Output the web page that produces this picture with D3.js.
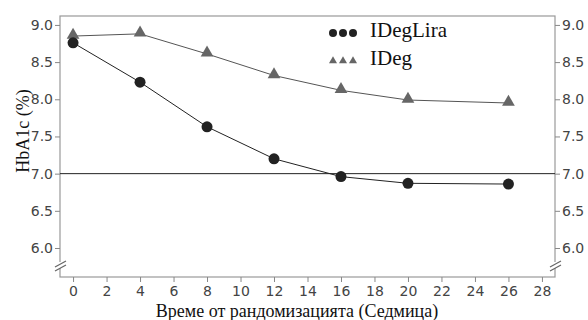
<!DOCTYPE html>
<html>
<head>
<meta charset="utf-8">
<script src="https://cdn.jsdelivr.net/npm/d3@7"></script>
<style>
  body { margin: 0; background: #fff; }
  .axis text { font-family: "DejaVu Sans", sans-serif; font-size: 14px; fill: #444; }
  .axis path, .axis line { stroke: #888; }
</style>
</head>
<body>
<script>
var weeks = [0, 4, 8, 12, 16, 20, 26];
var idegLira = [8.76, 8.23, 7.63, 7.20, 6.96, 6.87, 6.86];
var ideg = [8.85, 8.88, 8.61, 8.32, 8.12, 7.99, 7.95];
var xTicks = [0, 2, 4, 6, 8, 10, 12, 14, 16, 18, 20, 22, 24, 26, 28];
var yTicks = [6.0, 6.5, 7.0, 7.5, 8.0, 8.5, 9.0];
var seriesNames = ['IDegLira', 'IDeg'];

var W = 588, H = 320;
var pLeft = 60, pRight = 555, pTop = 16, pBottom = 277;

var svg = d3.select('body').append('svg').attr('width', W).attr('height', H);

var x = d3.scaleLinear().domain([-0.78, 28.78]).range([pLeft, pRight]);
var y = d3.scaleLinear().domain([5.61, 9.12]).range([pBottom, pTop]);

// frame
svg.append('rect').attr('x', pLeft).attr('y', pTop)
  .attr('width', pRight - pLeft).attr('height', pBottom - pTop)
  .attr('fill', 'none').attr('stroke', '#999').attr('stroke-width', 1.2);

var yAxisL = d3.axisLeft(y).tickValues(yTicks).tickFormat(d3.format('.1f')).tickSize(5).tickPadding(2);
var yAxisR = d3.axisRight(y).tickValues(yTicks).tickFormat(d3.format('.1f')).tickSize(5).tickPadding(2);
var xAxis = d3.axisBottom(x).tickValues(xTicks).tickSize(5).tickPadding(4);

svg.append('g').attr('class', 'axis').attr('transform', 'translate(' + pLeft + ',0)').call(yAxisL)
  .select('.domain').remove();
svg.append('g').attr('class', 'axis').attr('transform', 'translate(' + pRight + ',0)').call(yAxisR)
  .select('.domain').remove();
svg.append('g').attr('class', 'axis').attr('transform', 'translate(0,' + pBottom + ')').call(xAxis)
  .select('.domain').remove();

// axis break marks
[pLeft, pRight].forEach(function(px) {
  svg.append('rect').attr('x', px - 2).attr('y', 262).attr('width', 4).attr('height', 6).attr('fill', '#fff');
  [0, 4].forEach(function(off) {
    svg.append('line')
      .attr('x1', px - 5).attr('y1', 271 - off)
      .attr('x2', px + 6).attr('y2', 265 - off)
      .attr('stroke', '#666').attr('stroke-width', 1.2);
  });
});

// target line at 7.0
svg.append('line')
  .attr('x1', pLeft).attr('x2', pRight)
  .attr('y1', y(7.0)).attr('y2', y(7.0))
  .attr('stroke', '#222').attr('stroke-width', 1);

var line = d3.line()
  .x(function(d, i) { return x(weeks[i]); })
  .y(function(d) { return y(d); });

svg.append('path').attr('d', line(ideg)).attr('fill', 'none').attr('stroke', '#555').attr('stroke-width', 1);
svg.append('path').attr('d', line(idegLira)).attr('fill', 'none').attr('stroke', '#222').attr('stroke-width', 1);

var tri = d3.symbol().type(d3.symbolTriangle).size(70);

svg.selectAll('path.tri')
  .data(ideg)
  .enter().append('path')
    .attr('class', 'tri')
    .attr('d', tri)
    .attr('transform', function(d, i) { return 'translate(' + x(weeks[i]) + ',' + (y(d) - 1) + ')'; })
    .attr('fill', '#666');

svg.selectAll('circle.dot')
  .data(idegLira)
  .enter().append('circle')
    .attr('class', 'dot')
    .attr('cx', function(d, i) { return x(weeks[i]); })
    .attr('cy', function(d) { return y(d); })
    .attr('r', 5.5)
    .attr('fill', '#222');

// legend
var lg = svg.append('g');
[0, 1, 2].forEach(function(k) {
  lg.append('circle').attr('cx', 333 + k * 10).attr('cy', 33).attr('r', 4).attr('fill', '#222');
  lg.append('path').attr('d', d3.symbol().type(d3.symbolTriangle).size(28))
    .attr('transform', 'translate(' + (333 + k * 10) + ',61)').attr('fill', '#666');
});
lg.selectAll('text').data(seriesNames).enter().append('text')
  .attr('x', 370).attr('y', function(d, i) { return 37 + i * 28; })
  .attr('font-family', '"Liberation Serif", serif').attr('font-size', 21).attr('fill', '#111')
  .text(function(d) { return d; });

// axis titles
svg.append('text')
  .attr('transform', 'translate(29,131) rotate(-90)')
  .attr('text-anchor', 'middle')
  .attr('font-family', '"Liberation Serif", serif').attr('font-size', 18).attr('fill', '#111')
  .text('HbA1c (%)');

svg.append('text')
  .attr('x', 297).attr('y', 317)
  .attr('text-anchor', 'middle')
  .attr('font-family', '"Liberation Serif", serif').attr('font-size', 18).attr('fill', '#111')
  .text('Време от рандомизацията (Седмица)');
</script>
</body>
</html>
